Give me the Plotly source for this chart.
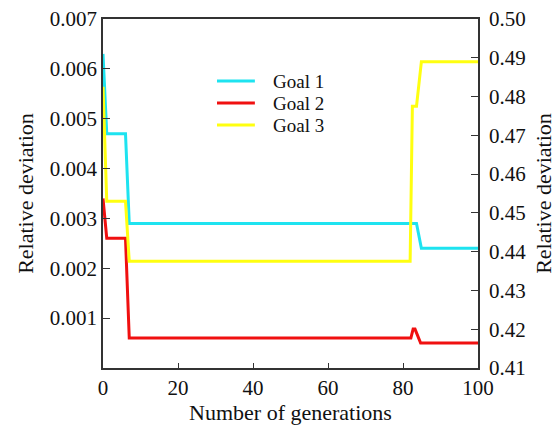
import plotly.graph_objects as go

# Goal 1 (left axis)
goal1_x = [0, 1, 6, 7, 83.6, 84.9, 100]
goal1_y = [0.0063, 0.0047, 0.0047, 0.0029, 0.0029, 0.0024, 0.0024]

# Goal 2 (left axis)
goal2_x = [0, 1, 6, 7, 82.1, 82.7, 83.2, 84.7, 100]
goal2_y = [0.0034, 0.0026, 0.0026, 0.0006, 0.0006, 0.00078, 0.00078, 0.0005, 0.0005]

# Goal 3 (right axis)
goal3_x = [0, 1, 6, 7, 81.9, 82.5, 83.6, 84.9, 100]
goal3_y = [0.4825, 0.453, 0.453, 0.4375, 0.4375, 0.4775, 0.4775, 0.489, 0.489]

names = ["Goal 1", "Goal 2", "Goal 3"]
colors = ["#1EE3F0", "#F01010", "#FFFF10"]

FONT = "Liberation Serif"

fig = go.Figure()
fig.add_trace(go.Scatter(x=goal1_x, y=goal1_y, mode="lines", name=names[0],
                         line=dict(color=colors[0], width=3), yaxis="y"))
fig.add_trace(go.Scatter(x=goal2_x, y=goal2_y, mode="lines", name=names[1],
                         line=dict(color=colors[1], width=3), yaxis="y"))
fig.add_trace(go.Scatter(x=goal3_x, y=goal3_y, mode="lines", name=names[2],
                         line=dict(color=colors[2], width=3), yaxis="y2"))

axis_common = dict(showgrid=False, zeroline=False, showline=True, automargin=False,
                   linecolor="#333333", linewidth=1.5, ticks="inside",
                   tickcolor="#333333", tickfont=dict(family=FONT, size=21, color="#111"))

fig.update_layout(
    width=558, height=427,
    margin=dict(l=103, r=80, t=19, b=59, autoexpand=False),
    paper_bgcolor="white", plot_bgcolor="white",
    showlegend=False,
    font=dict(family=FONT, color="#111"),
    xaxis=dict(range=[0, 100], tickvals=[0, 20, 40, 60, 80, 100], ticklen=5,
               mirror=True,
               title=dict(text="Number of generations", font=dict(family=FONT, size=22), standoff=2),
               **axis_common),
    yaxis=dict(range=[0, 0.007], tickvals=[0.001, 0.002, 0.003, 0.004, 0.005, 0.006, 0.007],
               ticktext=["0.001", "0.002", "0.003", "0.004", "0.005", "0.006", "0.007"],
               ticklen=7,
               title=dict(text="Relative deviation", font=dict(family=FONT, size=22), standoff=10),
               **axis_common),
    yaxis2=dict(range=[0.41, 0.50], overlaying="y", side="right", dtick=0.01,
                tickformat=".2f", ticklen=7, ticklabelstandoff=5,
                title=dict(text="Relative deviation", font=dict(family=FONT, size=22), standoff=10),
                **axis_common),
)

# legend drawn manually for compact spacing
leg_y = [0.8223, 0.7593, 0.6963]
for name, col, yy in zip(names, colors, leg_y):
    fig.add_shape(type="line", xref="paper", yref="paper", x0=0.304, x1=0.405, y0=yy, y1=yy,
                  line=dict(color=col, width=3))
    fig.add_annotation(xref="paper", yref="paper", x=0.448, y=yy, text=name, showarrow=False,
                       xanchor="left", yanchor="middle", height=20, valign="middle",
                       font=dict(family=FONT, size=19, color="#111"))

fig.write_html("out.html", post_script="document.body.style.margin='0';",
               config={"displayModeBar": False})
